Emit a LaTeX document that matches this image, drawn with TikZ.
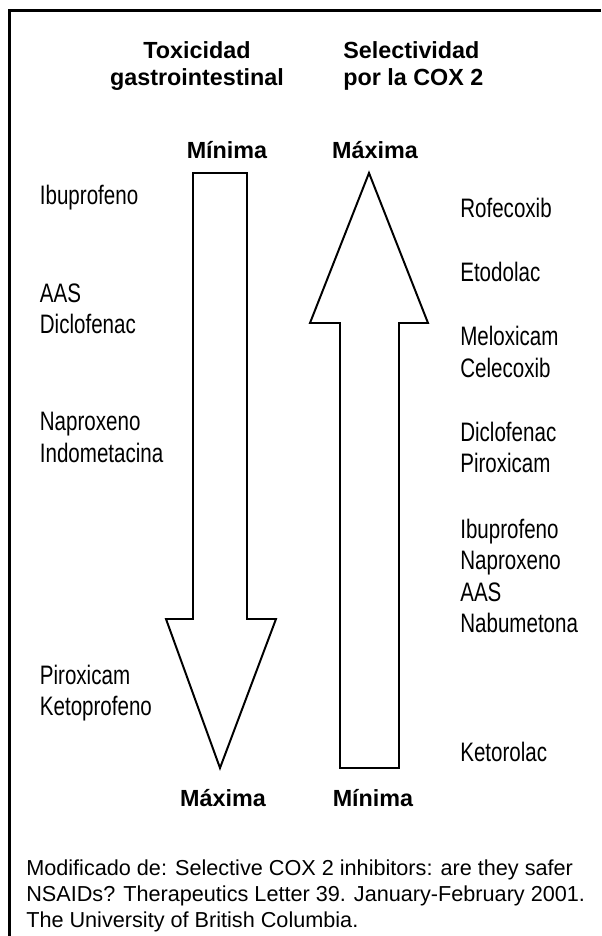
\documentclass[tikz,border=0pt]{standalone}
\usepackage{fontspec}
\setmainfont{Liberation Sans}
\newfontfamily\narrowfont[FakeStretch=0.77]{Liberation Sans}
\usetikzlibrary{positioning}

\begin{document}
\begin{tikzpicture}[
  drug/.style={anchor=west,inner sep=0pt,align=left,
               font=\narrowfont\fontsize{19}{22.4}\selectfont},
  head/.style={inner sep=0pt,align=center,
               font=\bfseries\fontsize{16.6}{19.2}\selectfont},
  level/.style={inner sep=0pt,font=\bfseries\fontsize{16.6}{19.2}\selectfont},
  bigarrow/.style={draw,line width=1.4pt,line join=miter},
  frame/.style={line width=1.6pt}
]
\useasboundingbox (0,0) rectangle (15.025,23.4);
\draw[frame] (0.24,0) -- (0.24,23.1375) -- (15.025,23.1375);

% headings
\node[head] (tox) at (4.925,21.76) {Toxicidad\\gastrointestinal};
\node[head, anchor=west, align=left] (sel) at (8.575,21.76) {Selectividad\\por la COX 2};

% the two arrows
\draw[bigarrow] (4.825,19.075) -- (6.175,19.075) -- (6.175,7.925) -- (6.9,7.925)
  -- (5.5,4.2) -- (4.15,7.925) -- (4.825,7.925) -- cycle;
\draw[bigarrow] (9.225,19.075) -- (10.7,15.325) -- (9.975,15.325) -- (9.975,4.2)
  -- (8.5,4.2) -- (8.5,15.325) -- (7.75,15.325) -- cycle;

\node[level] (minT) at (5.675,19.65) {Mínima};
\node[level] (maxT) at (9.375,19.65) {Máxima};
\node[level] (maxB) at (5.575,3.45)  {Máxima};
\node[level] (minB) at (9.325,3.45)  {Mínima};

% gastrointestinal toxicity
\node[drug] (ibuL) at (0.99,18.45)   {Ibuprofeno};
\node[drug] (aasL) at (0.99,15.675)  {AAS\\Diclofenac};
\node[drug] (napL) at (0.99,12.4625) {Naproxeno\\Indometacina};
\node[drug] (pirL) at (0.99,6.075)   {Piroxicam\\Ketoprofeno};

% COX 2 selectivity
\node[drug] (rofR) at (11.5,18.2)    {Rofecoxib};
\node[drug] (etoR) at (11.5,16.6)    {Etodolac};
\node[drug] (melR) at (11.5,14.6)    {Meloxicam\\Celecoxib};
\node[drug] (dicR) at (11.5,12.2125) {Diclofenac\\Piroxicam};
\node[drug] (ibuR) at (11.5,9.0)     {Ibuprofeno\\Naproxeno\\AAS\\Nabumetona};
\node[drug] (ketR) at (11.5,4.6)     {Ketorolac};

\node[anchor=west, inner sep=0pt, align=left,
      font=\fontsize{15.4}{18.5}\selectfont] (src) at (0.65,1.0)
  {Modificado de: Selective COX 2 inhibitors: are they safer\\
   NSAIDs? Therapeutics Letter 39. January-February 2001.\\
   The University of British Columbia.};
\end{tikzpicture}
\end{document}
